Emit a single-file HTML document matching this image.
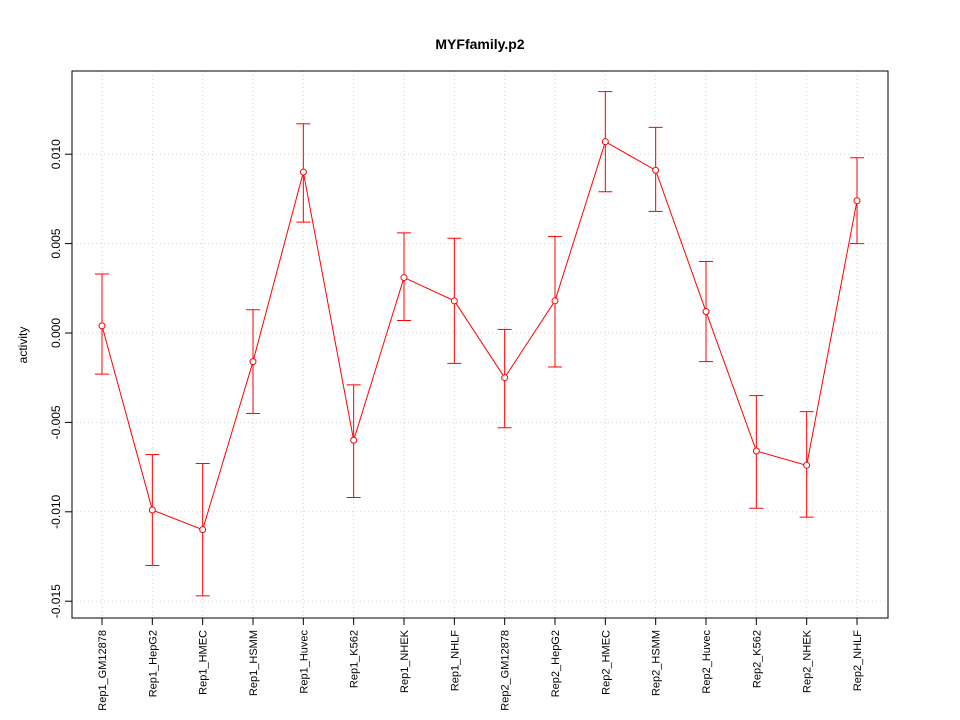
<!DOCTYPE html>
<html><head><meta charset="utf-8"><style>body{margin:0;background:#fff}svg{display:block}</style></head>
<body>
<svg id="chart" width="960" height="720" xmlns="http://www.w3.org/2000/svg" font-family="Liberation Sans, sans-serif"></svg>
<script>
const categories = ["Rep1_GM12878","Rep1_HepG2","Rep1_HMEC","Rep1_HSMM","Rep1_Huvec","Rep1_K562","Rep1_NHEK","Rep1_NHLF","Rep2_GM12878","Rep2_HepG2","Rep2_HMEC","Rep2_HSMM","Rep2_Huvec","Rep2_K562","Rep2_NHEK","Rep2_NHLF"];
const values = [0.0004,-0.0099,-0.0110,-0.0016,0.0090,-0.0060,0.0031,0.0018,-0.0025,0.0018,0.0107,0.0091,0.0012,-0.0066,-0.0074,0.0074];
const upper = [0.0033,-0.0068,-0.0073,0.0013,0.0117,-0.0029,0.0056,0.0053,0.0002,0.0054,0.0135,0.0115,0.0040,-0.0035,-0.0044,0.0098];
const lower = [-0.0023,-0.0130,-0.0147,-0.0045,0.0062,-0.0092,0.0007,-0.0017,-0.0053,-0.0019,0.0079,0.0068,-0.0016,-0.0098,-0.0103,0.0050];
const yTicks = [-0.015,-0.010,-0.005,0.000,0.005,0.010];
const yTickLabels = ["-0.015","-0.010","-0.005","0.000","0.005","0.010"];

const svg = document.getElementById('chart');
const NS = "http://www.w3.org/2000/svg";
const L=72,R=888,T=71,B=618;
const x = i => 102 + i*(857-102)/(categories.length-1);
const y = v => 333 - v*17880;
function mk(tag, attrs, parent){const e=document.createElementNS(NS,tag);for(const k in attrs)e.setAttribute(k,attrs[k]);(parent||svg).appendChild(e);return e;}

// grid
categories.forEach((c,i)=>{const g=mk('line',{x1:x(i),x2:x(i),y1:T,y2:B,stroke:'#d3d3d3','stroke-dasharray':'1,3'});

});
yTicks.forEach(v=>{const g=mk('line',{x1:L,x2:R,y1:y(v),y2:y(v),stroke:'#d3d3d3','stroke-dasharray':'1,3'});

});

// frame
const fr=mk('rect',{x:L,y:T,width:R-L,height:B-T,fill:'none',stroke:'#000'});



// title
const tt=mk('text',{x:480,y:49,'text-anchor':'middle','font-size':14,'font-weight':'bold'});tt.textContent='MYFfamily.p2';



// y axis
const ya=mk('line',{x1:L,x2:L,y1:y(-0.015),y2:y(0.010),stroke:'#000'});


yTicks.forEach((v,i)=>{mk('line',{x1:L-7,x2:L,y1:y(v),y2:y(v),stroke:'#000'});
const t=mk('text',{x:0,y:0,'text-anchor':'middle','font-size':12,transform:`translate(${L-12},${y(v)}) rotate(-90)`});t.textContent=yTickLabels[i];

});
const yt=mk('text',{x:0,y:0,'text-anchor':'middle','font-size':12,transform:`translate(27,345) rotate(-90)`});yt.textContent='activity';



// x axis
const xa=mk('line',{x1:x(0),x2:x(categories.length-1),y1:B,y2:B,stroke:'#000'});


categories.forEach((c,i)=>{mk('line',{x1:x(i),x2:x(i),y1:B,y2:B+7,stroke:'#000'});
const t=mk('text',{x:0,y:0,'text-anchor':'end','font-size':11,transform:`translate(${x(i)+4},${B+12}) rotate(-90)`});t.textContent=c;

});

// line
const pl=mk('polyline',{points:values.map((v,i)=>x(i)+','+y(v)).join(' '),fill:'none',stroke:'#ff0000'});



// error bars and points
values.forEach((v,i)=>{const g=mk('g',{stroke:'#ff0000',fill:'none'});


mk('line',{x1:x(i),x2:x(i),y1:y(upper[i]),y2:y(lower[i])},g);
mk('line',{x1:x(i)-7,x2:x(i)+7,y1:y(upper[i]),y2:y(upper[i])},g);
mk('line',{x1:x(i)-7,x2:x(i)+7,y1:y(lower[i]),y2:y(lower[i])},g);
const p=mk('circle',{cx:x(i),cy:y(v),r:3,fill:'#fff',stroke:'#ff0000'});

});
</script>
</body></html>
